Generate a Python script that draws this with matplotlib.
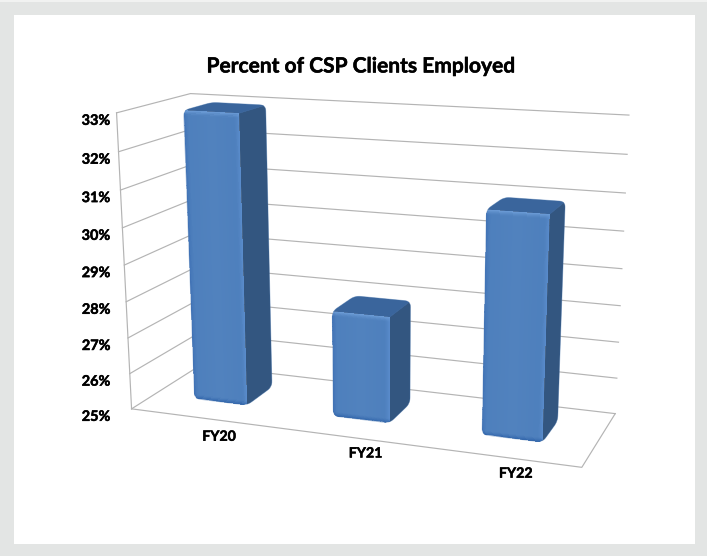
import numpy as np
import matplotlib
matplotlib.use("Agg")
import matplotlib.pyplot as plt
import matplotlib.patheffects as pe
from matplotlib.patches import Polygon, Rectangle

# Chart data
categories = ["FY20", "FY21", "FY22"]
employed_pct = [32.95, 27.9, 30.9]
tick_values = [25, 26, 27, 28, 29, 30, 31, 32, 33]
tick_labels = ["25%", "26%", "27%", "28%", "29%", "30%", "31%", "32%", "33%"]
title_text = "Percent of CSP Clients Employed"

Z_MIN, Z_MAX = tick_values[0], tick_values[-1]
N_CAT = len(categories)

# Camera: a 3x4 projective matrix fitted to the corners of the plot box,
# mapping (category position, depth, percent) to figure pixels.
box_world = [(0, 0, 33), (0, 1, 33), (0, 0, 25), (0, 1, 25), (3, 1, 33), (3, 1, 25), (3, 0, 25)]
box_pixel = [(117, 113), (190, 93.5), (131, 409), (201, 365), (629, 115), (615, 414), (582, 467)]


def normalised(x, y, z):
    return x / N_CAT, y, (z - Z_MIN) / (Z_MAX - Z_MIN)


rows = []
for w, (u, v) in zip(box_world, box_pixel):
    X, Y, Z = normalised(*w)
    rows.append([X, Y, Z, 1, 0, 0, 0, 0, -u * X, -u * Y, -u * Z, -u])
    rows.append([0, 0, 0, 0, X, Y, Z, 1, -v * X, -v * Y, -v * Z, -v])
CAMERA = np.linalg.svd(np.array(rows))[2][-1].reshape(3, 4)


def project(x, y, z):
    x, y, z = np.broadcast_arrays(np.asarray(x, float), np.asarray(y, float), np.asarray(z, float))
    X, Y, Z = normalised(x, y, z)
    q = CAMERA @ np.stack([X.ravel(), Y.ravel(), Z.ravel(), np.ones(X.size)])
    return (q[0] / q[2]).reshape(x.shape), (q[1] / q[2]).reshape(x.shape)


def pt(x, y, z):
    u, v = project(x, y, z)
    return float(u), float(v)


def rounded(points, radius):
    """Polygon outline with its corners rounded off in pixel space."""
    pts = np.array(points, float)
    out = []
    n = len(pts)
    for i in range(n):
        p, a, b = pts[i], pts[i - 1], pts[(i + 1) % n]
        d1 = (a - p) / np.linalg.norm(a - p)
        d2 = (b - p) / np.linalg.norm(b - p)
        s = p + d1 * radius
        e = p + d2 * radius
        for t in np.linspace(0, 1, 8):
            out.append((1 - t) ** 2 * s + 2 * t * (1 - t) * p + t ** 2 * e)
    return np.array(out)


def mix(c, target, amount):
    return c + (np.asarray(target, float) - c) * amount[..., None]


fig = plt.figure(figsize=(7.07, 5.56), dpi=100, facecolor="#e3e5e4")
ax = fig.add_axes([0, 0, 1, 1])
ax.set_xlim(0, 707)
ax.set_ylim(556, 0)
ax.axis("off")

# Page frame
ax.add_patch(Rectangle((0, 0), 707, 1.5, fc="#f1f2f1", ec="none", zorder=0))
ax.add_patch(Rectangle((13.5, 15), 681.5, 529, fc="white", ec="none", zorder=0))

GRID = "#b4b4b4"
GRID_LW = 0.85

# Gridlines along the side wall and the back wall
for z in tick_values:
    a, b, c = pt(0, 0, z), pt(0, 1, z), pt(N_CAT, 1, z)
    ax.plot([a[0], b[0], c[0]], [a[1], b[1], c[1]], color=GRID, lw=GRID_LW, zorder=1,
            solid_joinstyle="miter")

# Remaining floor edges and the front edge of the side wall
a, b, c = pt(0, 0, Z_MIN), pt(N_CAT, 0, Z_MIN), pt(N_CAT, 1, Z_MIN)
ax.plot([a[0], b[0], c[0]], [a[1], b[1], c[1]], color=GRID, lw=GRID_LW, zorder=1,
        solid_joinstyle="miter")
b = pt(0, 0, Z_MAX)
ax.plot([a[0], b[0]], [a[1], b[1]], color=GRID, lw=GRID_LW, zorder=1)

# Bars: shaded front face, dark side face and mid-tone top face
BAR_LEFT, BAR_RIGHT = 0.295, 0.682
BAR_FRONT, BAR_BACK = 0.325, 0.73
BEVEL = 5.0

for i, value in enumerate(employed_pct):
    x0, x1 = i + BAR_LEFT, i + BAR_RIGHT
    fbl, fbr = pt(x0, BAR_FRONT, Z_MIN), pt(x1, BAR_FRONT, Z_MIN)
    bbr = pt(x1, BAR_BACK, Z_MIN)
    ftl, ftr = pt(x0, BAR_FRONT, value), pt(x1, BAR_FRONT, value)
    btl, btr = pt(x0, BAR_BACK, value), pt(x1, BAR_BACK, value)

    outline = rounded([fbl, fbr, bbr, btr, btl, ftl], 6.0)
    clip = Polygon(outline, closed=True, fc="none", ec="none", transform=ax.transData)
    ax.add_patch(clip)

    # Side face
    side = Polygon([ftr, btr, bbr, fbr], closed=True, fc="#335680", ec="#335680", lw=0.5, zorder=2)
    ax.add_patch(side)
    side.set_clip_path(clip)

    # Top face
    top = Polygon([ftl, btl, btr, ftr], closed=True, fc="#3a659c", ec="#3a659c", lw=0.5, zorder=3)
    ax.add_patch(top)
    top.set_clip_path(clip)

    # Front face, shaded per cell so the bevelled edges catch the light
    nu, nv = 70, 240
    s = np.linspace(0, 1, nu + 1)
    t = np.linspace(0, 1, nv + 1)
    S, T = np.meshgrid(s, t)
    px, py = project(x0 + (x1 - x0) * S, np.full_like(S, BAR_FRONT), Z_MIN + (value - Z_MIN) * T)

    sc = (s[:-1] + s[1:]) / 2
    tc = (t[:-1] + t[1:]) / 2
    SC, TC = np.meshgrid(sc, tc)
    width_px = fbr[0] - fbl[0]
    height_px = fbl[1] - ftl[1]
    dl, dr = SC * width_px, (1 - SC) * width_px
    db, dt = TC * height_px, (1 - TC) * height_px

    col = np.empty(SC.shape + (3,))
    col[...] = (81, 130, 190)
    col = mix(col, (75, 125, 187), np.abs(SC - 0.5) * 1.2)
    col = mix(col, (64, 114, 182), np.clip(1 - dl / BEVEL, 0, 1) ** 1.5)
    col = mix(col, (90, 140, 204), np.clip(1 - dr / BEVEL, 0, 1) ** 1.5)
    col = mix(col, (108, 156, 214), np.clip(1 - dt / BEVEL, 0, 1) ** 1.5)
    col = mix(col, (48, 100, 170), np.clip(1 - db / BEVEL, 0, 1) ** 1.3)
    mesh = ax.pcolormesh(px, py, col / 255.0, shading="flat", antialiased=False,
                         edgecolors="none", zorder=4)
    mesh.set_clip_path(clip)

    # Soft edge on the silhouette
    ax.add_patch(Polygon(outline, closed=True, fc="none", ec="#4a78b0", lw=0.5, alpha=0.45, zorder=5))

heavier = [pe.withStroke(linewidth=0.35, foreground="black")]

# Tick labels on the percent axis
for z, label in zip(tick_values, tick_labels):
    _, y = pt(0, 0, z)
    ax.text(110, y + 8, label, ha="right", va="center", family="Lato", weight="bold",
            fontsize=10.4, color="black", zorder=6, path_effects=heavier)

# Category labels in front of the floor
label_shift = [(19, 19), (21, 17), (16, 17)]
for i, name in enumerate(categories):
    u, v = pt(i + 0.5, 0, Z_MIN)
    dx, dy = label_shift[i]
    ax.text(u + dx, v + dy, name, ha="center", va="center", family="Lato", weight="bold",
            fontsize=10.2, color="black", zorder=6, path_effects=heavier)

ax.text(361.5, 66.5, title_text, ha="center", va="center", family="Lato", weight="bold",
        fontsize=15.1, color="black", zorder=6, path_effects=heavier)

fig.savefig("out.png", dpi=100, facecolor=fig.get_facecolor())
